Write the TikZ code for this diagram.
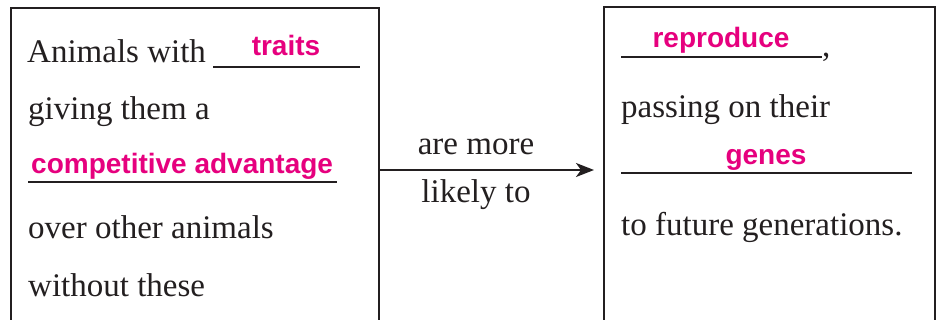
\documentclass[tikz,border=0pt]{standalone}
\usepackage{fontspec}
\setmainfont{Liberation Serif}
\newfontfamily\pinkfont{Liberation Sans}
\usetikzlibrary{arrows.meta}
\definecolor{answerpink}{HTML}{E6007E}
\definecolor{inkgray}{HTML}{231F20}
\tikzset{
  panel/.style={draw=inkgray, line width=2pt, rectangle, inner sep=0pt, anchor=north west},
  serif/.style={font=\fontsize{33}{38}\selectfont, text=inkgray, inner sep=0pt, anchor=base west},
  answer/.style={font=\pinkfont\bfseries\fontsize{28}{32}\selectfont, text=answerpink, inner sep=0pt, anchor=base},
  blank/.style={draw=inkgray, line width=1.6pt},
  link/.style={draw=inkgray, line width=2pt, -{Stealth[length=18pt,width=14pt,inset=5pt]}}
}
\begin{document}
\begin{tikzpicture}[x=1pt,y=-1pt]
\useasboundingbox (0,0) rectangle (940,320);
\clip (0,0) rectangle (940,320);
\fill[white] (0,0) rectangle (940,320);
% boxes
\node[panel, minimum width=368pt, minimum height=340pt] (L) at (10,7) {};
\node[panel, minimum width=331pt, minimum height=340pt] (R) at (603,6) {};
% left box text
\node[serif] (l1) at (27,63) {Animals with};
\coordinate (u1a) at (213,67); \coordinate (u1b) at (360,67);
\draw[blank] (u1a) -- (u1b);
\node[answer] (a1) at (286,56) {traits};
\node[serif] (l2) at (28,120) {giving them a};
\node[answer, anchor=base west] (a2) at (31,174) {competitive advantage};
\coordinate (u2a) at (28,182); \coordinate (u2b) at (337,182);
\draw[blank] (u2a) -- (u2b);
\node[serif] (l3) at (28,239) {over other animals};
\node[serif] (l4) at (28,297) {without these};
% arrow
\coordinate (s) at (L.east |- 0,170);
\coordinate (t) at (594,170);
\draw[link] (s) -- (t);
\node[serif, anchor=base] (m1) at (476,155) {are more};
\node[serif, anchor=base] (m2) at (476,203) {likely to};
% right box text
\coordinate (u3a) at (621,57); \coordinate (u3b) at (822,57);
\draw[blank] (u3a) -- (u3b);
\node[serif] (comma) at (822,57) {,};
\node[answer] (a3) at (721,48) {reproduce};
\node[serif] (r2) at (621,118) {passing on their};
\coordinate (u4a) at (621,173); \coordinate (u4b) at (912,173);
\draw[blank] (u4a) -- (u4b);
\node[answer] (a4) at (766,165) {genes};
\node[serif] (r3) at (621,236) {to future generations.};
\end{tikzpicture}
\end{document}
